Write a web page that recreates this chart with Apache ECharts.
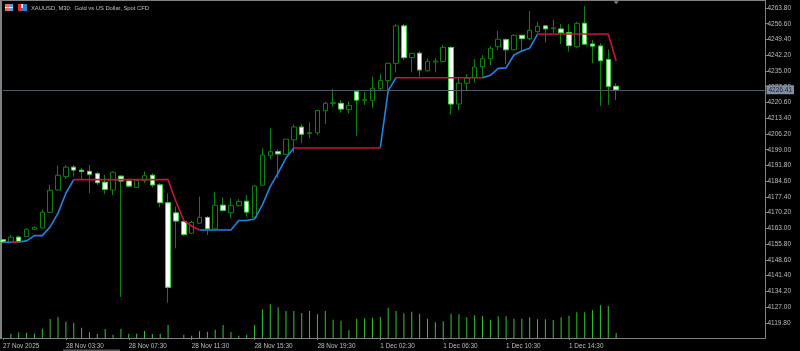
<!DOCTYPE html>
<html>
<head>
<meta charset="UTF-8">
<title>XAUUSD M30</title>
<script src="https://cdn.jsdelivr.net/npm/echarts@6/dist/echarts.min.js"></script>
<style>
html,body{margin:0;padding:0;background:#000;}
#main{width:800px;height:351px;}
</style>
</head>
<body>
<div id="main"></div>
<script>
// open, close, low, high
var candles = [
[4157.8,4156.8,4156.4,4158.2],[4156.5,4159.0,4156.4,4160.0],[4159.0,4157.0,4156.5,4159.6],[4159.3,4162.6,4159.0,4163.1],
[4162.6,4163.5,4162.3,4163.8],[4163.2,4170.4,4162.9,4171.8],[4170.4,4180.5,4170.2,4182.9],[4180.6,4187.3,4180.3,4191.6],
[4186.7,4191.0,4185.6,4192.0],[4191.0,4189.7,4186.7,4192.0],[4189.6,4189.1,4185.5,4190.5],[4189.1,4187.8,4179.1,4192.0],
[4188.0,4183.9,4182.9,4189.0],[4184.1,4180.9,4178.8,4187.5],[4180.6,4188.7,4178.3,4189.0],[4186.9,4184.7,4131.7,4187.1],
[4184.7,4182.4,4181.8,4185.2],[4181.7,4185.0,4181.4,4185.5],[4184.8,4187.1,4183.7,4189.1],[4187.3,4182.9,4181.8,4188.2],
[4182.9,4174.8,4172.7,4183.7],[4174.7,4136.1,4129.1,4179.1],[4170.1,4166.4,4153.9,4173.0],[4166.1,4160.2,4159.6,4167.8],
[4160.8,4165.7,4160.5,4166.6],[4165.4,4168.1,4165.1,4177.5],[4168.0,4162.9,4160.0,4168.7],[4162.8,4173.6,4162.6,4179.7],
[4173.6,4171.3,4170.7,4177.3],[4170.2,4173.6,4167.8,4176.8],[4173.4,4175.4,4173.0,4176.4],[4175.4,4170.5,4168.4,4178.3],
[4168.1,4182.4,4168.0,4182.9],[4182.8,4196.6,4182.4,4199.7],[4196.4,4198.1,4194.6,4208.8],[4198.1,4197.1,4186.1,4199.2],
[4196.9,4203.8,4196.6,4203.9],[4203.5,4209.4,4197.6,4210.6],[4209.3,4206.1,4202.0,4210.8],[4206.3,4206.8,4204.2,4211.5],
[4206.7,4216.9,4205.7,4217.2],[4216.9,4220.2,4210.8,4221.0],[4220.2,4220.5,4218.7,4226.8],[4220.2,4217.6,4215.9,4221.7],
[4217.3,4219.3,4215.7,4221.2],[4225.5,4221.7,4205.3,4226.0],[4221.6,4221.9,4219.5,4225.4],[4221.6,4227.1,4218.2,4232.4],
[4226.9,4230.6,4226.0,4233.6],[4230.6,4238.5,4226.3,4238.8],[4238.5,4255.6,4234.4,4256.4],[4255.6,4241.1,4240.0,4256.5],
[4241.1,4243.1,4234.4,4243.2],[4243.1,4235.5,4232.4,4244.1],[4235.1,4239.4,4234.7,4240.8],[4239.1,4239.6,4234.4,4240.8],
[4239.3,4245.8,4239.0,4246.9],[4245.7,4219.9,4214.9,4246.4],[4219.9,4229.4,4217.2,4231.7],[4229.4,4231.7,4226.3,4233.6],
[4231.9,4236.8,4229.7,4240.4],[4237.0,4240.6,4231.7,4242.3],[4240.6,4245.4,4237.7,4246.4],[4246.1,4249.5,4244.6,4253.4],
[4249.3,4244.7,4238.2,4250.0],[4244.7,4251.3,4244.6,4251.8],[4251.3,4249.8,4243.8,4251.5],[4249.8,4253.6,4249.2,4262.4],
[4253.0,4255.4,4252.2,4257.5],[4255.6,4254.3,4247.9,4256.0],[4254.3,4254.7,4252.2,4258.3],[4254.2,4252.5,4247.3,4256.5],
[4252.5,4246.6,4243.8,4256.4],[4246.1,4256.8,4245.4,4257.5],[4256.8,4247.3,4247.2,4264.7],[4247.3,4246.4,4238.5,4249.2],
[4246.4,4239.7,4219.0,4247.7],[4240.2,4228.0,4219.5,4244.9],[4228.0,4226.4,4221.7,4229.4]
];
var trendLine = [
4156.8,4156.7,4156.8,4157.3,4159.7,4159.7,4163.7,4170.0,4179.1,4185.3,
4185.3,4185.3,4185.3,4185.3,4185.3,4185.3,4185.3,4185.3,4185.3,4185.3,
4185.3,4185.3,4175.3,4166.6,4164.1,4162.3,4162.3,4162.3,4162.3,4162.3,
4166.6,4166.6,4167.3,4173.8,4182.1,4188.4,4195.2,4199.8,4199.8,4199.8,
4199.8,4199.8,4199.8,4199.8,4199.8,4199.8,4199.8,4199.8,4199.8,4226.0,
4231.9,4231.9,4231.9,4231.9,4231.9,4231.9,4231.9,4231.9,4231.9,4231.9,
4231.9,4231.9,4233.0,4236.2,4236.4,4242.3,4244.1,4245.4,4251.9,4251.9,
4251.9,4251.9,4251.9,4251.9,4251.9,4251.9,4251.9,4251.9,4239.7
];
// stretches of trendLine drawn red, the rest is blue
var redSpans = [[1,2],[9,25],[37,48],[50,61],[68,78]];
var volumes = [
0,430,570,530,430,930,1900,2100,1630,1500,1030,570,400,900,330,930,430,430,700,400,
430,1300,0,330,230,670,630,830,1300,600,230,330,1300,2870,3370,3070,2700,2700,2500,2700,
2370,2700,1830,1730,770,1930,1970,2030,2130,3030,2700,2470,2630,2430,1930,1570,1670,2430,2370,2070,
2270,2170,1830,2170,2170,1930,1930,2070,1870,1870,1800,2070,2230,2570,2570,2770,3270,3200,500
];
var timeLabels = ['27 Nov 2025','28 Nov 03:30','28 Nov 07:30','28 Nov 11:30','28 Nov 15:30','28 Nov 19:30','1 Dec 02:30','1 Dec 06:30','1 Dec 10:30','1 Dec 14:30'];
var priceTicks = [4119.8,4127,4134.2,4141.4,4148.6,4155.8,4163,4170.2,4177.4,4184.6,4191.8,4199,4206.2,4213.4,4220.6,4227.8,4235,4242.2,4249.4,4256.6,4263.8];
var lastPrice = 4226.41;

var slots = 98; // empty room right of the last candle
var categories = [];
for (var i = 0; i < slots; i++) {
    categories.push(i % 8 === 0 && timeLabels[i / 8] ? timeLabels[i / 8] : '');
}

function inRed(i, strict) {
    return redSpans.some(function (s) {
        return strict ? (i > s[0] && i < s[1]) : (i >= s[0] && i <= s[1]);
    });
}
var redLine = trendLine.map(function (v, i) { return inRed(i, false) ? v : '-'; });
var blueLine = trendLine.map(function (v, i) { return inRed(i, true) ? '-' : v; });
var downBodies = candles.map(function (c) {
    return c[1] < c[0] ? [c[0], c[1], c[1], c[0]] : ['-', '-', '-', '-'];
});

var font = 'Liberation Sans';
var myChart = echarts.init(document.getElementById('main'), null, {renderer: 'canvas'});
var option = {
    backgroundColor: '#000',
    animation: false,
    grid: {left: 1.5, right: 34.5, top: 1, height: 337},
    xAxis: {
        type: 'category',
        boundaryGap: false,
        data: categories,
        axisLine: {lineStyle: {color: '#808080', width: 1}},
        axisTick: {
            length: 2,
            lineStyle: {color: '#808080'},
            interval: function (i) { return i % 8 === 0 && i <= 72; }
        },
        axisLabel: {
            color: '#bcbcbc', fontFamily: font, fontSize: 6.4, align: 'left', margin: 5,
            interval: function (i) { return i % 8 === 0 && i <= 72; }
        },
        splitLine: {show: false}
    },
    yAxis: [{
        type: 'value',
        position: 'right',
        min: 4112.9,
        max: 4267,
        axisLine: {show: true, lineStyle: {color: '#808080', width: 1}},
        axisTick: {show: true, length: 3, customValues: priceTicks, lineStyle: {color: '#808080'}},
        axisLabel: {
            color: '#bcbcbc', fontFamily: font, fontSize: 6.5, margin: 2,
            customValues: priceTicks,
            formatter: function (v) { return v.toFixed(2); }
        },
        splitLine: {show: false}
    }, {
        type: 'value',
        min: 0,
        max: 33700,
        show: false
    }],
    series: [{
        type: 'bar',
        yAxisIndex: 1,
        barWidth: 1,
        data: volumes,
        itemStyle: {color: '#30c830'},
        z: 1
    }, {
        type: 'candlestick',
        data: candles,
        barWidth: 5,
        itemStyle: {
            color: '#000', color0: '#fff',
            borderColor: '#0e820e', borderColor0: '#0e820e', borderWidth: 1
        },
        markLine: {
            silent: true,
            symbol: 'none',
            lineStyle: {color: '#4f5a66', type: 'solid', width: 1},
            label: {
                position: 'end', distance: 1,
                color: '#1c2430', backgroundColor: '#7f8ea3',
                fontFamily: font, fontSize: 6.5, padding: [1, 2, 1, 2],
                formatter: lastPrice.toFixed(2)
            },
            data: [{yAxis: lastPrice}]
        },
        markPoint: {
            silent: true,
            symbol: 'triangle',
            symbolRotate: 180,
            symbolSize: [5, 3],
            itemStyle: {color: '#77808c'},
            label: {show: false},
            data: [{coord: [78, 4266.2]}]
        },
        z: 2
    }, {
        type: 'candlestick',
        data: downBodies,
        barWidth: 5,
        itemStyle: {color: '#fff', color0: '#fff', borderColor: '#38d838', borderColor0: '#38d838', borderWidth: 1},
        z: 3
    }, {
        type: 'line',
        data: blueLine,
        showSymbol: false,
        lineStyle: {color: '#1e84e4', width: 1.6},
        z: 4
    }, {
        type: 'line',
        data: redLine,
        showSymbol: false,
        lineStyle: {color: '#c8123c', width: 1.6},
        z: 5
    }],
    graphic: [
        {type: 'rect', left: 0, top: 0, shape: {width: 2, height: 339}, style: {fill: '#808080'}},
        {type: 'rect', left: 0, top: 0, shape: {width: 766, height: 1}, style: {fill: '#808080'}},
        {type: 'rect', left: 63, top: 349.5, shape: {width: 57, height: 1.5}, style: {fill: '#585858'}},
        {type: 'rect', left: 5, top: 4, shape: {width: 4, height: 7}, style: {fill: '#e86a60'}},
        {type: 'rect', left: 9, top: 4, shape: {width: 4, height: 7}, style: {fill: '#4f9fe0'}},
        {type: 'rect', left: 5, top: 7, shape: {width: 8, height: 1}, style: {fill: '#f0f0f0'}},
        {type: 'rect', left: 18, top: 4, shape: {width: 4, height: 7}, style: {fill: '#d83030'}},
        {type: 'rect', left: 22, top: 4, shape: {width: 5, height: 7}, style: {fill: '#2c80d0'}},
        {type: 'rect', left: 21, top: 4, shape: {width: 2, height: 4}, style: {fill: '#f0f0f0'}},
        {type: 'text', left: 31, top: 5, style: {text: 'XAUUSD, M30:  Gold vs US Dollar, Spot CFD', fill: '#c0c0c0', font: '5.8px "Liberation Sans"'}}
    ]
};
myChart.setOption(option);
window.addEventListener('resize', function () {
    myChart.resize();
});
</script>
</body>
</html>
